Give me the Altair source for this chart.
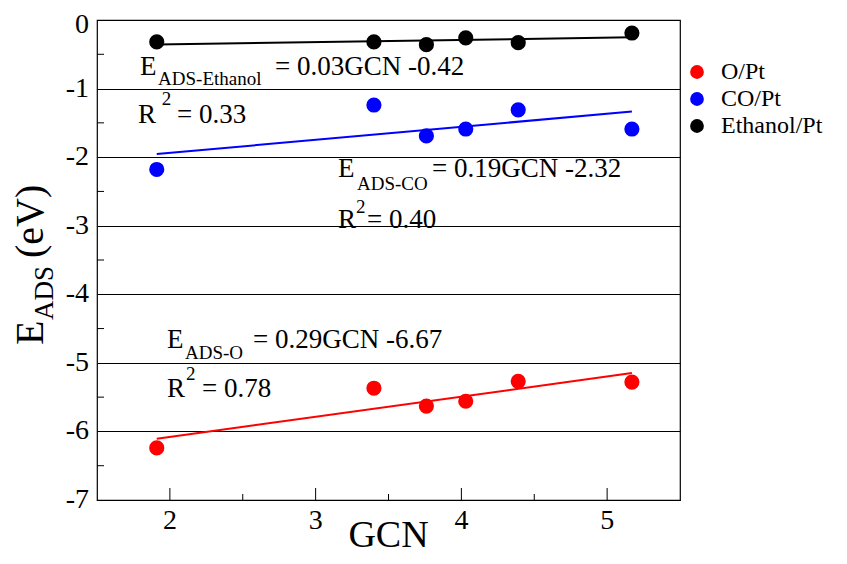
import altair as alt
import pandas as pd

# ---- data ----
gcn = [1.91, 3.40, 3.76, 4.03, 4.39, 5.17]
e_o = [-6.24, -5.37, -5.63, -5.56, -5.27, -5.28]
e_co = [-2.18, -1.24, -1.69, -1.59, -1.31, -1.59]
e_eth = [-0.32, -0.32, -0.36, -0.26, -0.33, -0.19]
series = ["O/Pt", "CO/Pt", "Ethanol/Pt"]
colors = ["#ff0000", "#0000ff", "#000000"]

x_major = [2, 3, 4, 5]
x_labels = ["2", "3", "4", "5"]
x_minor = [2.5, 3.5, 4.5]
y_major = [-1, -2, -3, -4, -5, -6, -7]
y_labels = ["-1", "-2", "-3", "-4", "-5", "-6", "-7"]
y_top = [0]
y_top_label = ["0"]
y_minor = [-0.5, -1.5, -2.5, -3.5, -4.5, -5.5, -6.5]

# annotation pieces (text, GCN position, E position, font size)
ann_text = ["E", "ADS-Ethanol", "= 0.03GCN -0.42", "R", "2", "= 0.33",
            "E", "ADS-CO", "= 0.19GCN -2.32", "R", "2", "= 0.40",
            "E", "ADS-O", "= 0.29GCN -6.67", "R", "2", "= 0.78"]
ann_x = [1.795, 1.919, 2.721, 1.781, 1.945, 2.049,
         3.154, 3.284, 3.798, 3.154, 3.277, 3.352,
         1.980, 2.104, 2.570, 1.980, 2.110, 2.220]
ann_y = [-0.802, -0.948, -0.802, -1.502, -1.240, -1.502,
         -2.290, -2.479, -2.290, -3.033, -2.815, -3.033,
         -4.783, -4.944, -4.783, -5.498, -5.250, -5.498]
ann_size = [27, 19, 27, 27, 19, 27,
            27, 19, 27, 27, 19, 27,
            27, 19, 27, 27, 19, 27]

W, H = 583, 480
FONT = "Liberation Serif"

rows = []
for s, vals in zip(series, [e_o, e_co, e_eth]):
    for g, v in zip(gcn, vals):
        rows.append({"GCN": g, "E": v, "series": s})
df = pd.DataFrame(rows)

xs = alt.Scale(domain=[1.5, 5.5], nice=False, zero=False)
ys = alt.Scale(domain=[-7, 0], nice=False, zero=False)
cs = alt.Scale(domain=series, range=colors)

base = alt.Chart(df)

x_axis = alt.Axis(values=x_major, ticks=False, domain=False, grid=False,
                  labels=False, title=None)
y_axis = alt.Axis(values=y_major, ticks=False, domain=False, grid=True,
                  gridColor="black", gridWidth=1, gridOpacity=1,
                  labels=False, title=None)

points = base.mark_circle(size=230, opacity=1).encode(
    x=alt.X("GCN:Q", scale=xs, axis=x_axis),
    y=alt.Y("E:Q", scale=ys, axis=y_axis),
    color=alt.Color("series:N", scale=cs, sort=series,
                    legend=alt.Legend(title=None, orient="none", legendX=588,
                                      legendY=40, labelFont=FONT,
                                      labelFontSize=24, labelColor="black",
                                      symbolType="circle", symbolSize=190,
                                      symbolStrokeWidth=0, rowPadding=3,
                                      labelOffset=12, padding=0)),
)

lines = base.transform_regression("GCN", "E", groupby=["series"]).mark_line(
    strokeWidth=2
).encode(
    x=alt.X("GCN:Q", scale=xs, axis=x_axis),
    y=alt.Y("E:Q", scale=ys, axis=y_axis),
    color=alt.Color("series:N", scale=cs, legend=None),
)

xt_major = alt.Chart(pd.DataFrame({"v": x_major})).mark_rule(color="black", strokeWidth=1).encode(
    x=alt.X("v:Q", scale=xs, axis=x_axis), y=alt.value(H - 12), y2=alt.value(H))
xt_minor = alt.Chart(pd.DataFrame({"v": x_minor})).mark_rule(color="black", strokeWidth=1).encode(
    x=alt.X("v:Q", scale=xs, axis=x_axis), y=alt.value(H - 6), y2=alt.value(H))
yt_minor = alt.Chart(pd.DataFrame({"v": y_minor})).mark_rule(color="black", strokeWidth=1).encode(
    y=alt.Y("v:Q", scale=ys, axis=y_axis), x=alt.value(0), x2=alt.value(7))

# tick labels as text
xlab = alt.Chart(pd.DataFrame({"v": x_major, "t": x_labels})).mark_text(
    font=FONT, fontSize=28, color="black", align="center", baseline="alphabetic"
).encode(x=alt.X("v:Q", scale=xs, axis=x_axis), y=alt.value(H + 29), text="t:N")
ylab = alt.Chart(pd.DataFrame({"v": y_major, "t": y_labels})).mark_text(
    font=FONT, fontSize=28, color="black", align="right", baseline="middle"
).encode(y=alt.Y("v:Q", scale=ys, axis=y_axis), x=alt.value(-8), text="t:N")
ylab0 = alt.Chart(pd.DataFrame({"v": y_top, "t": y_top_label})).mark_text(
    font=FONT, fontSize=28, color="black", align="right", baseline="middle", dy=5
).encode(y=alt.Y("v:Q", scale=ys, axis=y_axis), x=alt.value(-8), text="t:N")
xtitle = alt.Chart(pd.DataFrame({"t": ["GCN"]})).mark_text(
    font=FONT, fontSize=38, color="black", align="center", baseline="alphabetic"
).encode(x=alt.value(W / 2), y=alt.value(H + 47), text="t:N")

ann = alt.Chart(pd.DataFrame({"t": ann_text, "x": ann_x, "y": ann_y, "s": ann_size})).mark_text(
    align="left", baseline="alphabetic", font=FONT, color="black"
).encode(
    x=alt.X("x:Q", scale=xs, axis=x_axis), y=alt.Y("y:Q", scale=ys, axis=y_axis),
    text="t:N", size=alt.Size("s:Q", scale=None, legend=None),
)

# rotated y-axis title E_ADS (eV)
ytitle_text = ["E", "ADS", "(eV)"]
ytitle_dx = [-54, -44, -54]
ytitle_dy = [325, 300, 238]
ytitle_size = [40, 27, 40]
ytitle = alt.Chart(pd.DataFrame({"t": ytitle_text, "px": ytitle_dx, "py": ytitle_dy, "s": ytitle_size})).mark_text(
    align="left", baseline="alphabetic", font=FONT, color="black", angle=270
).encode(
    x=alt.X("px:Q", scale=None), y=alt.Y("py:Q", scale=None),
    text="t:N", size=alt.Size("s:Q", scale=None, legend=None),
)

chart = alt.layer(points, lines, xt_major, xt_minor, yt_minor, xlab, ylab, ylab0,
                  xtitle, ann, ytitle).properties(
    width=W, height=H,
    padding={"left": 89, "top": 12, "right": 158, "bottom": 56},
    autosize=alt.AutoSizeParams(type="none"),
).configure(
    background="white", font=FONT
).configure_view(stroke="black", strokeWidth=1.2)

chart.save("out.html", embed_options={"renderer": "svg", "actions": False})
